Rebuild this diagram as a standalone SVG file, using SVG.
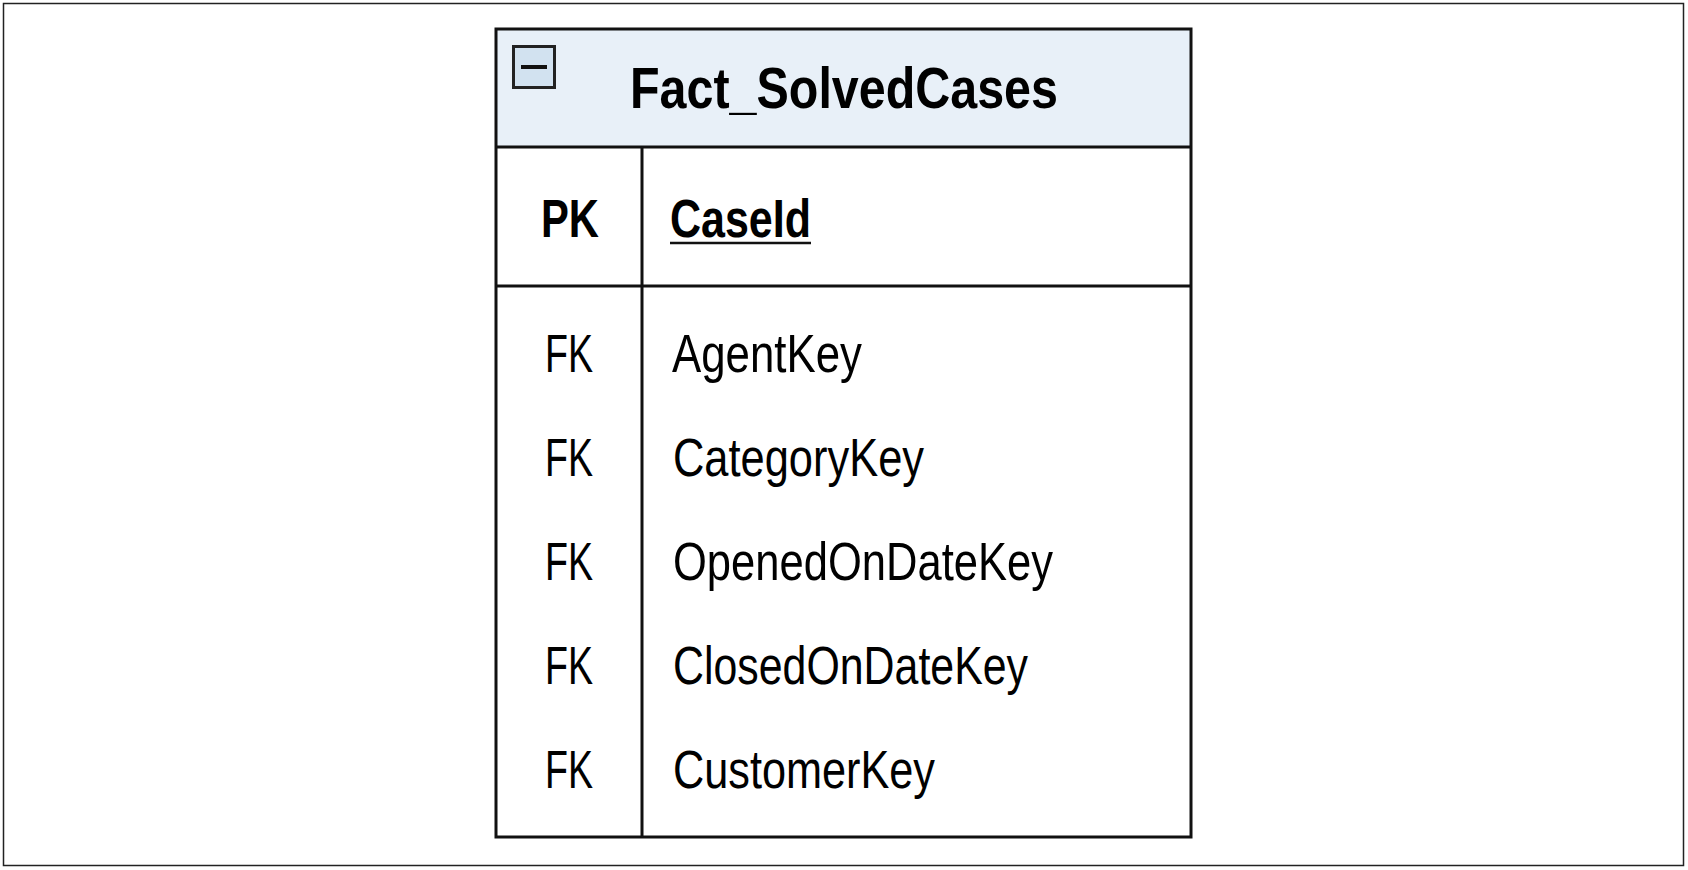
<svg xmlns="http://www.w3.org/2000/svg" width="1688" height="870" viewBox="0 0 1688 870">
<style>
.ln{stroke:#111;stroke-width:3;fill:none}
.t{font-family:"Liberation Sans Narrow","Liberation Sans",Arial,sans-serif;fill:#000}
.b{font-weight:bold}
.k{font-size:53px}
</style>
<rect x="0" y="0" width="1688" height="870" fill="#fff"/>
<rect x="3.5" y="3.5" width="1680" height="862" fill="#fff" stroke="#222" stroke-width="1.5"/>
<g id="Fact_SolvedCases">
<rect x="496" y="29" width="695" height="118" fill="#e8f0f8"/>
<rect x="496" y="147" width="695" height="690" fill="#fff"/>
<rect x="496" y="29" width="695" height="808" class="ln"/>
<line x1="496" y1="147" x2="1191" y2="147" class="ln"/>
<line x1="496" y1="286" x2="1191" y2="286" class="ln"/>
<line x1="642" y1="147" x2="642" y2="837" class="ln"/>
<rect x="513.5" y="46.5" width="41" height="41" fill="#d2e2f0" stroke="#222" stroke-width="3"/>
<line x1="521" y1="67" x2="547" y2="67" stroke="#111" stroke-width="4"/>
<text class="t b" x="630" y="108" font-size="58" textLength="428" lengthAdjust="spacingAndGlyphs">Fact_SolvedCases</text>
<text class="t b k" x="541" y="237" textLength="58" lengthAdjust="spacingAndGlyphs">PK</text>
<text class="t b k" x="670" y="237" textLength="141" lengthAdjust="spacingAndGlyphs">CaseId</text>
<line x1="670" y1="243" x2="811" y2="243" stroke="#111" stroke-width="2.5"/>
<text class="t k" x="545" y="372" textLength="48" lengthAdjust="spacingAndGlyphs">FK</text>
<text class="t k" x="672" y="372" textLength="190" lengthAdjust="spacingAndGlyphs">AgentKey</text>
<text class="t k" x="545" y="476" textLength="48" lengthAdjust="spacingAndGlyphs">FK</text>
<text class="t k" x="673" y="476" textLength="251" lengthAdjust="spacingAndGlyphs">CategoryKey</text>
<text class="t k" x="545" y="580" textLength="48" lengthAdjust="spacingAndGlyphs">FK</text>
<text class="t k" x="673" y="580" textLength="380" lengthAdjust="spacingAndGlyphs">OpenedOnDateKey</text>
<text class="t k" x="545" y="684" textLength="48" lengthAdjust="spacingAndGlyphs">FK</text>
<text class="t k" x="673" y="684" textLength="355" lengthAdjust="spacingAndGlyphs">ClosedOnDateKey</text>
<text class="t k" x="545" y="788" textLength="48" lengthAdjust="spacingAndGlyphs">FK</text>
<text class="t k" x="673" y="788" textLength="262" lengthAdjust="spacingAndGlyphs">CustomerKey</text>
</g>
<g id="connectors"></g>
</svg>
